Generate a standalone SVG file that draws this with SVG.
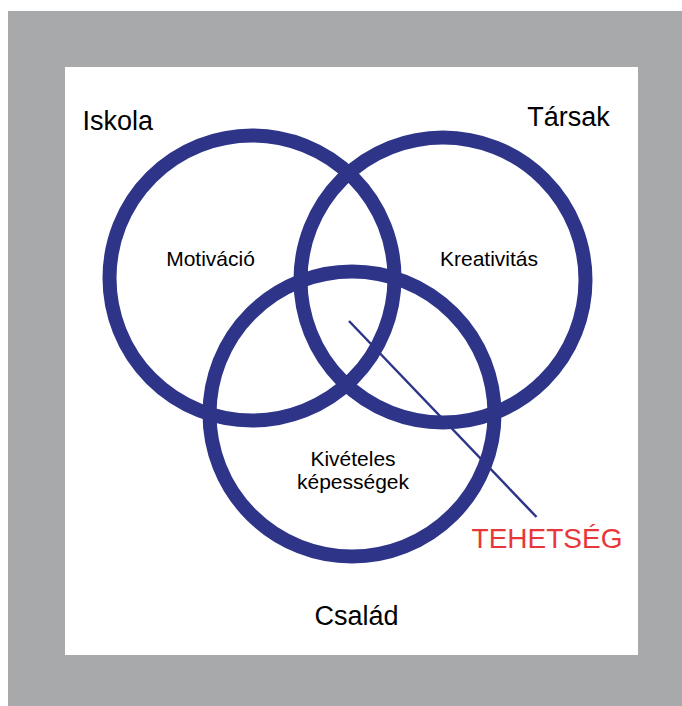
<svg xmlns="http://www.w3.org/2000/svg" width="682" height="706" viewBox="0 0 682 706">
<style>
.ring{fill:none;stroke:#2e3589;stroke-width:14}
.big{font-family:"Liberation Sans",Arial,sans-serif;font-size:27px;fill:#000}
.mid{font-family:"Liberation Sans",Arial,sans-serif;font-size:21px;fill:#000}
.red{font-family:"Liberation Sans",Arial,sans-serif;font-size:28px;fill:#e8373a}
</style>
<rect x="0" y="0" width="682" height="706" fill="#ffffff"/>
<rect x="8" y="11" width="674" height="695" fill="#a8a9ab"/>
<rect x="65" y="67" width="573" height="588" fill="#ffffff"/>
<g id="iskola">
<circle class="ring" cx="252" cy="278" r="142.5"/>
<text class="big" x="82.5" y="130">Iskola</text>
<text class="mid" x="210.5" y="266" text-anchor="middle">Motiváció</text>
</g>
<g id="tarsak">
<circle class="ring" cx="443" cy="280" r="142.5"/>
<text class="big" x="568.5" y="126" text-anchor="middle">Társak</text>
<text class="mid" x="489" y="266" text-anchor="middle">Kreativitás</text>
</g>
<g id="csalad">
<circle class="ring" cx="352" cy="414" r="142.5"/>
<text class="big" x="356.5" y="625" text-anchor="middle">Család</text>
<text class="mid" x="353" y="466" text-anchor="middle">Kivételes</text>
<text class="mid" x="353" y="489" text-anchor="middle">képességek</text>
</g>
<g id="connectors">
<line x1="349" y1="321" x2="536.5" y2="517" stroke="#2e3589" stroke-width="2.5"/>
</g>
<g id="tehetseg">
<text class="red" x="547" y="548" text-anchor="middle">TEHETSÉG</text>
</g>
</svg>
